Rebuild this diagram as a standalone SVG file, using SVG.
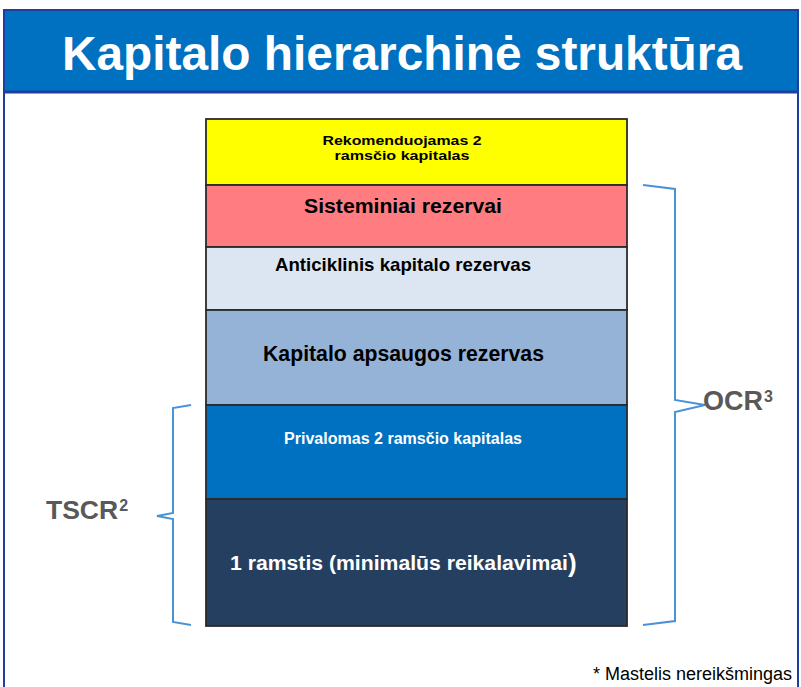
<svg xmlns="http://www.w3.org/2000/svg" width="801" height="687" viewBox="0 0 801 687">
<style>
.lbl{font-family:"Liberation Sans",Arial,sans-serif;font-weight:bold;text-anchor:middle;}
.row{stroke:#2b2b2b;stroke-width:1.8;}
.brace{fill:none;stroke:#4a92d8;stroke-width:2;stroke-linejoin:miter;}
.side{font-family:"Liberation Sans",Arial,sans-serif;font-weight:bold;fill:#595959;}
</style>
<rect x="0" y="0" width="801" height="687" fill="#ffffff"/>
<g id="frame">
<rect x="4" y="10" width="794" height="690" fill="#ffffff" stroke="#1f3f9f" stroke-width="2"/>
<rect x="4" y="10" width="794" height="82" fill="#0070c0" stroke="#1f3f9f" stroke-width="2"/>
<line x1="4" y1="92" x2="798" y2="92" stroke="#1f3f9f" stroke-width="3"/>
</g>
<g id="title">
<text class="lbl" x="402" y="70" font-size="48" fill="#ffffff" textLength="680" lengthAdjust="spacingAndGlyphs">Kapitalo hierarchinė struktūra</text>
</g>
<g id="row-rekomenduojamas">
<rect class="row" x="206" y="119" width="421" height="66" fill="#ffff00"/>
<text class="lbl" x="402" y="144.5" font-size="13" fill="#000000" textLength="159" lengthAdjust="spacingAndGlyphs">Rekomenduojamas 2</text>
<text class="lbl" x="402" y="159.5" font-size="13" fill="#000000" textLength="135" lengthAdjust="spacingAndGlyphs">ramsčio kapitalas</text>
</g>
<g id="row-sisteminiai">
<rect class="row" x="206" y="185" width="421" height="62" fill="#ff7c80"/>
<text class="lbl" x="403" y="213" font-size="20" fill="#000000" textLength="198" lengthAdjust="spacingAndGlyphs">Sisteminiai rezervai</text>
</g>
<g id="row-anticiklinis">
<rect class="row" x="206" y="247" width="421" height="63" fill="#dce6f2"/>
<text class="lbl" x="403" y="271" font-size="18.5" fill="#000000" textLength="256" lengthAdjust="spacingAndGlyphs">Anticiklinis kapitalo rezervas</text>
</g>
<g id="row-apsaugos">
<rect class="row" x="206" y="310" width="421" height="95" fill="#95b3d7"/>
<text class="lbl" x="403.5" y="361" font-size="21.5" fill="#000000" textLength="281" lengthAdjust="spacingAndGlyphs">Kapitalo apsaugos rezervas</text>
</g>
<g id="row-privalomas">
<rect class="row" x="206" y="405" width="421" height="94" fill="#0070c0"/>
<text class="lbl" x="403" y="444" font-size="16" fill="#ffffff" textLength="238" lengthAdjust="spacingAndGlyphs">Privalomas 2 ramsčio kapitalas</text>
</g>
<g id="row-ramstis">
<rect class="row" x="206" y="499" width="421" height="127" fill="#253f60"/>
<text class="lbl" x="230" y="570" font-size="20" fill="#ffffff" style="text-anchor:start" textLength="338" lengthAdjust="spacingAndGlyphs">1 ramstis (minimalūs reikalavimai</text>
<text class="lbl" x="568" y="572" font-size="26" fill="#ffffff" style="text-anchor:start">)</text>
</g>
<g id="connectors">
<path class="brace" d="M643,185 L675,189 L675,400 L705,405 L675,412 L675,621 L643,625"/>
<path class="brace" d="M191,405 L173,408 L173,513 L157,516 L173,519 L173,622 L191,625"/>
</g>
<g id="ocr">
<text class="side" x="703" y="410" font-size="27">OCR<tspan font-size="16" dy="-8" dx="1">3</tspan></text>
</g>
<g id="tscr">
<text class="side" x="46" y="519" font-size="26.5">TSCR<tspan font-size="16" dy="-8" dx="1">2</tspan></text>
</g>
<g id="footnote">
<text x="792" y="680" font-family="'Liberation Sans',Arial,sans-serif" font-size="18" fill="#000000" text-anchor="end">* Mastelis nereikšmingas</text>
</g>
</svg>
